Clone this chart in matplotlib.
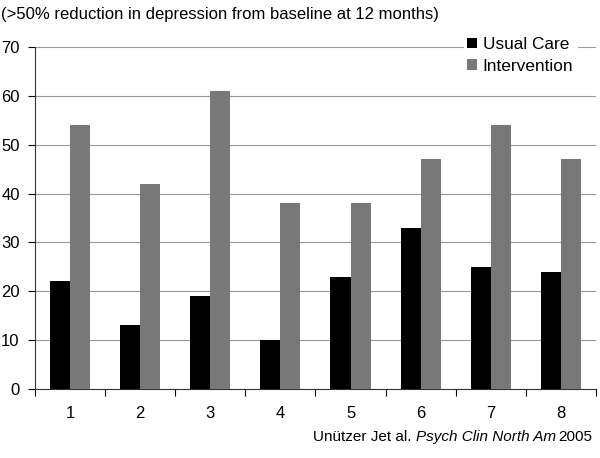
import numpy as np
import matplotlib.pyplot as plt

plt.rcParams['font.family'] = ['Liberation Sans', 'DejaVu Sans']

# datos
categorias = ['1', '2', '3', '4', '5', '6', '7', '8']
usual_care = [22, 13, 19, 10, 23, 33, 25, 24]
intervencion = [54, 42, 61, 38, 38, 47, 54, 47]

fig = plt.figure(figsize=(6, 4.58), dpi=100)
ax = fig.add_axes([0.0583, 0.1507, 0.935, 0.7467])

x = np.arange(len(categorias))
ancho = 0.286
ax.bar(x - ancho / 2, usual_care, ancho, color='black', label='Usual Care', zorder=3)
ax.bar(x + ancho / 2, intervencion, ancho, color='#787878', label='Intervention', zorder=3)

ax.set_xlim(-0.5, len(categorias) - 0.5)
ax.set_ylim(0, 70)
ax.set_yticks(np.arange(0, 71, 10))
ax.yaxis.grid(True, color='#999999', linewidth=0.8, zorder=0)
ax.tick_params(axis='y', labelsize=12, direction='out', length=5, width=0.8, pad=6)

ax.set_xticks(x)
ax.set_xticklabels(categorias, fontsize=12)
ax.set_xticks(np.arange(-0.5, len(categorias)), minor=True)
ax.tick_params(axis='x', which='major', length=0, pad=12)
ax.tick_params(axis='x', which='minor', length=5, width=0.8, direction='out')

for lado in ['top', 'right']:
    ax.spines[lado].set_visible(False)
for lado in ['left', 'bottom']:
    ax.spines[lado].set_linewidth(0.8)
    ax.spines[lado].set_color('#333333')

leg = ax.legend(loc='upper left', bbox_to_anchor=(455 / 600, 1 - 25 / 458),
                bbox_transform=fig.transFigure, frameon=True,
                fontsize=12.4, handlelength=0.6, handleheight=0.6,
                handletextpad=0.3, labelspacing=0.4, borderpad=0.2)
leg.get_frame().set_edgecolor('white')
leg.get_frame().set_facecolor('white')
leg.get_frame().set_alpha(1)
leg.set_zorder(5)

fig.text(0.002, 0.968, '(>50% reduction in depression from baseline at 12 months)',
         fontsize=12, ha='left', va='center')

# cita con parte en cursiva
t1 = fig.text(313 / 600, 0.046, 'Unützer Jet al. ', fontsize=11, ha='left', va='center')
fig.canvas.draw()
bb = t1.get_window_extent()
t2 = fig.text(bb.x1 / fig.bbox.width, 0.046, 'Psych Clin North Am', fontsize=11,
              style='italic', ha='left', va='center')
bb2 = t2.get_window_extent()
fig.text(bb2.x1 / fig.bbox.width + 0.004, 0.046, '2005', fontsize=11,
         ha='left', va='center')

plt.savefig('out.png', dpi=100)
